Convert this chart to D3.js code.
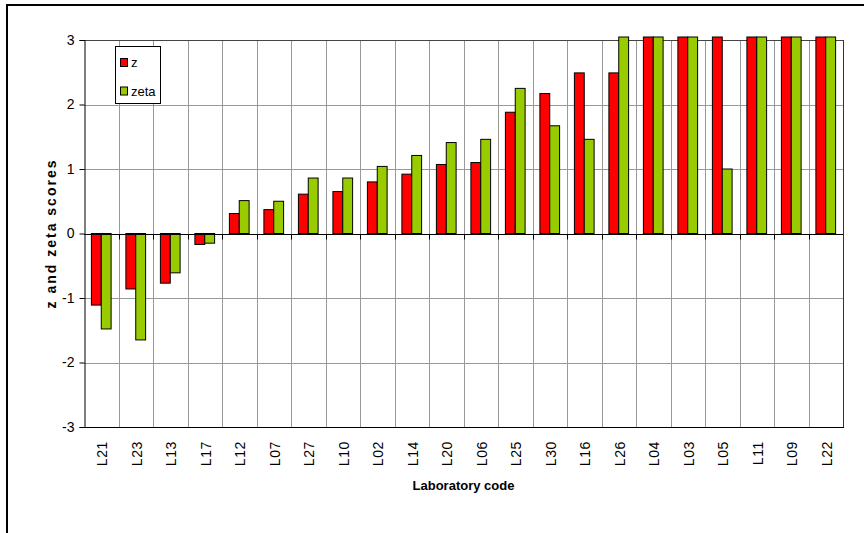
<!DOCTYPE html>
<html>
<head>
<meta charset="utf-8">
<script src="https://cdn.jsdelivr.net/npm/d3@7"></script>
<style>
  html, body { margin: 0; padding: 0; background: #fff; overflow: hidden; }
  svg { display: block; font-family: "Liberation Sans", Arial, sans-serif; }
</style>
</head>
<body>
<svg id="chart" width="864" height="533"></svg>
<script>
// data (values above 3 are off-scale, drawn clipped at the top)
const labs = ["L21","L23","L13","L17","L12","L07","L27","L10","L02","L14","L20",
              "L06","L25","L30","L16","L26","L04","L03","L05","L11","L09","L22"];
const zScores    = [-1.11,-0.86,-0.77,-0.17,0.31,0.37,0.61,0.65,0.80,0.92,1.07,
                    1.10,1.88,2.17,2.49,2.49,4,4,4,4,4,4];
const zetaScores = [-1.48,-1.65,-0.61,-0.15,0.51,0.50,0.86,0.86,1.04,1.21,1.41,
                    1.46,2.25,1.67,1.46,4,4,4,1.00,4,4,4];
const seriesNames = ["z", "zeta"];
const seriesColors = ["#ff0000", "#99cc00"];
const yTicks = [-3, -2, -1, 0, 1, 2, 3];

const svg = d3.select("#chart");
const plot = { left: 84, right: 843, top: 40, bottom: 427 };

// outer frame - only the top and left edges fall inside the picture
svg.append("path")
  .attr("d", "M7,533 V5 H864")
  .attr("fill", "none").attr("stroke", "#000").attr("stroke-width", 2);

const x = d3.scaleBand().domain(labs).range([plot.left, plot.right]).paddingInner(0).paddingOuter(0);
const y = d3.scaleLinear().domain([-3, 3]).range([plot.bottom, plot.top]).clamp(true);

// bar width as in excel with 150% gap width
const barW = x.bandwidth() / 3.5;
const xs = d3.scaleBand().domain(seriesNames).range([0, barW * 2]);
const groupOffset = (x.bandwidth() - barW * 2) / 2;

// gridlines
const grid = svg.append("g");
grid.selectAll("line.h")
  .data(yTicks.filter(d => d !== 0 && d !== -3 && d !== 3))
  .join("line")
  .attr("x1", plot.left).attr("x2", plot.right)
  .attr("y1", d => Math.round(y(d)) + 0.5).attr("y2", d => Math.round(y(d)) + 0.5)
  .attr("stroke", "#999").attr("stroke-width", 1);
grid.selectAll("line.v")
  .data(labs.slice(1))
  .join("line")
  .attr("x1", d => Math.round(x(d)) + 0.5).attr("x2", d => Math.round(x(d)) + 0.5)
  .attr("y1", plot.top).attr("y2", plot.bottom)
  .attr("stroke", "#999").attr("stroke-width", 1);

// plot border top/right
svg.append("line")
  .attr("x1", plot.left).attr("x2", plot.right)
  .attr("y1", y(3) + 0.5).attr("y2", y(3) + 0.5)
  .attr("stroke", "#444");
svg.append("line")
  .attr("x1", plot.right + 0.5).attr("x2", plot.right + 0.5)
  .attr("y1", plot.top).attr("y2", plot.bottom)
  .attr("stroke", "#333");

// bars
const series = [zScores, zetaScores];
const barsG = svg.append("g");
series.forEach((vals, si) => {
  barsG.selectAll("rect.s" + si)
    .data(vals.map((v, i) => ({ lab: labs[i], v })))
    .join("rect")
    .attr("x", d => x(d.lab) + groupOffset + xs(seriesNames[si]))
    .attr("width", barW)
    .attr("y", d => {
      const top = Math.min(y(d.v), y(0));
      return d.v > 3 ? top - 3 : top; // excel lets clipped bars poke over the edge
    })
    .attr("height", d => {
      const h = Math.abs(y(d.v) - y(0));
      return d.v > 3 ? h + 3 : h;
    })
    .attr("fill", seriesColors[si])
    .attr("stroke", "#000").attr("stroke-width", 1);
});

// y axis
const yAxis = d3.axisLeft(y).tickValues(yTicks).tickSize(5).tickPadding(5).tickFormat(d => String(d));
const yg = svg.append("g").attr("transform", `translate(${plot.left + 0.5},0)`).call(yAxis);
yg.select(".domain").attr("stroke", "#000");
yg.selectAll(".tick line").attr("stroke", "#000");
yg.selectAll(".tick text").attr("font-size", 14).attr("fill", "#000").attr("font-family", null);

// bottom border at -3
svg.append("line")
  .attr("x1", plot.left).attr("x2", plot.right + 1)
  .attr("y1", plot.bottom + 0.5).attr("y2", plot.bottom + 0.5)
  .attr("stroke", "#000");

// x axis at zero with ticks at category boundaries
const zeroY = Math.round(y(0)) + 0.5;
svg.append("line")
  .attr("x1", plot.left).attr("x2", plot.right)
  .attr("y1", zeroY).attr("y2", zeroY)
  .attr("stroke", "#000");
svg.append("g").selectAll("line")
  .data(labs.slice(1))
  .join("line")
  .attr("x1", d => Math.round(x(d)) + 0.5).attr("x2", d => Math.round(x(d)) + 0.5)
  .attr("y1", zeroY).attr("y2", zeroY + 5)
  .attr("stroke", "#000");

// category labels (below the plot, rotated)
svg.append("g").selectAll("text")
  .data(labs)
  .join("text")
  .attr("transform", d => `translate(${x(d) + x.bandwidth() / 2 + 6},${plot.bottom + 14}) rotate(-90)`)
  .attr("text-anchor", "end")
  .attr("font-size", 14)
  .attr("letter-spacing", 0.6)
  .text(d => d);

// axis titles
svg.append("text")
  .attr("x", (plot.left + plot.right) / 2)
  .attr("y", 490)
  .attr("text-anchor", "middle")
  .attr("font-size", 13)
  .attr("font-weight", "bold")
  .text("Laboratory code");

svg.append("text")
  .attr("transform", `translate(56,${y(0)}) rotate(-90)`)
  .attr("text-anchor", "middle")
  .attr("font-size", 14)
  .attr("font-weight", "bold")
  .attr("letter-spacing", 2)
  .text("z and zeta scores");

// legend
const lg = svg.append("g").attr("transform", "translate(115,46)");
lg.append("rect")
  .attr("x", 0.5).attr("y", 0.5).attr("width", 45).attr("height", 57)
  .attr("fill", "#fff").attr("stroke", "#000");
seriesNames.forEach((name, i) => {
  lg.append("rect")
    .attr("x", 5.5).attr("y", 12.5 + i * 28.5)
    .attr("width", 7).attr("height", 8)
    .attr("fill", seriesColors[i]).attr("stroke", "#000");
  lg.append("text")
    .attr("x", 16).attr("y", 21 + i * 28.5)
    .attr("font-size", 13)
    .text(name);
});
</script>
</body>
</html>
